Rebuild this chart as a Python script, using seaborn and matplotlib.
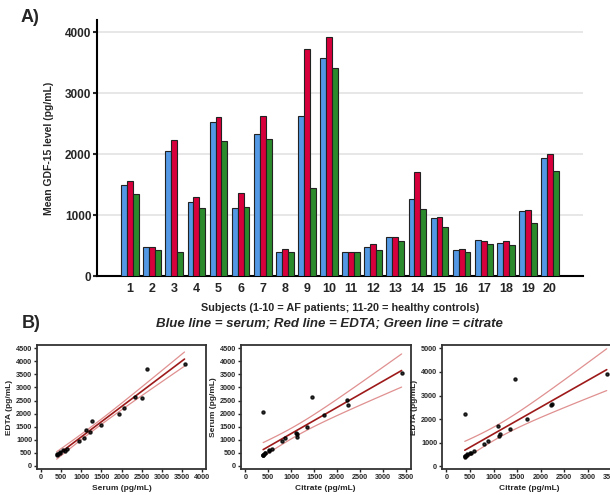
import numpy as np
import pandas as pd
import seaborn as sns
import matplotlib
matplotlib.use('Agg')
import matplotlib.pyplot as plt

# === DATI ===
subjects = [str(i) for i in range(1, 21)]
serum   = [1487, 483, 2052, 1212, 2518, 1108, 2331, 400, 2628, 3566,
           389, 472, 642, 1267, 954, 422, 587, 549, 1059, 1931]
edta    = [1563, 477, 2222, 1295, 2600, 1366, 2628, 439, 3714, 3911,
           389, 521, 642, 1706, 960, 439, 576, 581, 1075, 1997]
citrate = [1344, 428, 395, 1119, 2216, 1130, 2238, 395, 1448, 3406,
           389, 433, 576, 1103, 806, 395, 521, 510, 872, 1722]
sample_types = ['Serum', 'EDTA', 'Citrate']
colori = ['#5298e4', '#d8003c', '#2b8a2b']

sns.set_style('white')
plt.rcParams['font.family'] = ['Liberation Sans Narrow', 'Liberation Sans', 'DejaVu Sans']
plt.rcParams['font.weight'] = 'bold'
plt.rcParams['axes.labelweight'] = 'bold'

# dataframe lungo per il barplot
df = pd.DataFrame({
  'Subject': subjects * 3,
  'Level': serum + edta + citrate,
  'Type': [t for t in sample_types for _ in subjects],
})

fig = plt.figure(figsize=(6.1, 4.95), dpi=100)

# === A) barre ===
ax = fig.add_axes([0.159, 0.4424, 0.797, 0.5176])
sns.barplot(data=df, x='Subject', y='Level', hue='Type', order=subjects,
            hue_order=sample_types, palette=colori, saturation=1,
            edgecolor='#222222', linewidth=0.8, width=0.8, legend=False,
            ax=ax, zorder=3)
ax.set_xlim(-1.5, 20.5)
ax.set_ylim(0, 4200)
ax.set_yticks([0, 1000, 2000, 3000, 4000])
ax.yaxis.grid(True, color='#e3e3e3', linewidth=1.2, zorder=0)
ax.set_axisbelow(True)
for s in ['top', 'right']:
  ax.spines[s].set_visible(False)
for s in ['left', 'bottom']:
  ax.spines[s].set_linewidth(1.5)
  ax.spines[s].set_color('black')
ax.tick_params(axis='y', length=3, width=1.5, left=True, labelsize=8.5, pad=1)
ax.tick_params(axis='x', length=0, labelsize=9, pad=5)
ax.set_ylabel('Mean GDF-15 level (pg/mL)', fontsize=7.5, labelpad=8)
ax.set_xlabel('Subjects (1-10 = AF patients; 11-20 = healthy controls)', fontsize=7.8, labelpad=6)

fig.text(0.033, 0.955, 'A)', fontsize=13, fontweight='bold', family=['Liberation Sans', 'DejaVu Sans'])
fig.text(0.036, 0.338, 'B)', fontsize=13, fontweight='bold', family=['Liberation Sans', 'DejaVu Sans'])
fig.text(0.54, 0.34, 'Blue line = serum; Red line = EDTA; Green line = citrate',
         fontsize=9.5, fontstyle='italic', fontweight='bold', ha='center')


# === B) regressioni ===
def scatter_reg(ax, x, y, xlabel, ylabel, xlim, ylim, xticks, yticks):
  x = np.array(x, dtype=float)
  y = np.array(y, dtype=float)
  sns.regplot(x=x, y=y, ci=None, ax=ax, color='black',
              scatter_kws={'s': 5, 'zorder': 4},
              line_kws={'color': '#9e1a1a', 'linewidth': 1.2, 'zorder': 3})
  # banda di confidenza al 95% della retta
  n = len(x)
  b, a = np.polyfit(x, y, 1)
  res = y - (a + b * x)
  s = np.sqrt(np.sum(res ** 2) / (n - 2))
  sxx = np.sum((x - x.mean()) ** 2)
  xs = np.linspace(x.min(), x.max(), 100)
  se = s * np.sqrt(1 / n + (xs - x.mean()) ** 2 / sxx)
  t = 2.101
  ax.plot(xs, a + b * xs + t * se, color='#e09090', linewidth=0.9, zorder=2)
  ax.plot(xs, a + b * xs - t * se, color='#e09090', linewidth=0.9, zorder=2)
  ax.set_xlim(*xlim)
  ax.set_ylim(*ylim)
  ax.set_xticks(xticks)
  ax.set_yticks(yticks)
  for sp in ax.spines.values():
    sp.set_linewidth(1.3)
    sp.set_color('#333333')
  ax.tick_params(length=2.5, width=1, labelsize=5.2, pad=1, bottom=True, left=True)
  ax.set_xlabel(xlabel, fontsize=6, labelpad=3)
  ax.set_ylabel(ylabel, fontsize=6, labelpad=2)


ax1 = fig.add_axes([0.0607, 0.0525, 0.277, 0.2505])
scatter_reg(ax1, serum, edta, 'Serum (pg/mL)', 'EDTA (pg/mL)',
            (-100, 4100), (-130, 4630), range(0, 4001, 500), range(0, 4501, 500))

ax2 = fig.add_axes([0.395, 0.0525, 0.278, 0.2505])
scatter_reg(ax2, citrate, serum, 'Citrate (pg/mL)', 'Serum (pg/mL)',
            (-95, 3600), (-130, 4630), range(0, 3501, 500), range(0, 4501, 500))

ax3 = fig.add_axes([0.7246, 0.0525, 0.285, 0.2505])
scatter_reg(ax3, citrate, edta, 'Citrate (pg/mL)', 'EDTA (pg/mL)',
            (-95, 3600), (-115, 5140), range(0, 3501, 500), range(0, 5001, 1000))

fig.savefig('out.png', dpi=100)
